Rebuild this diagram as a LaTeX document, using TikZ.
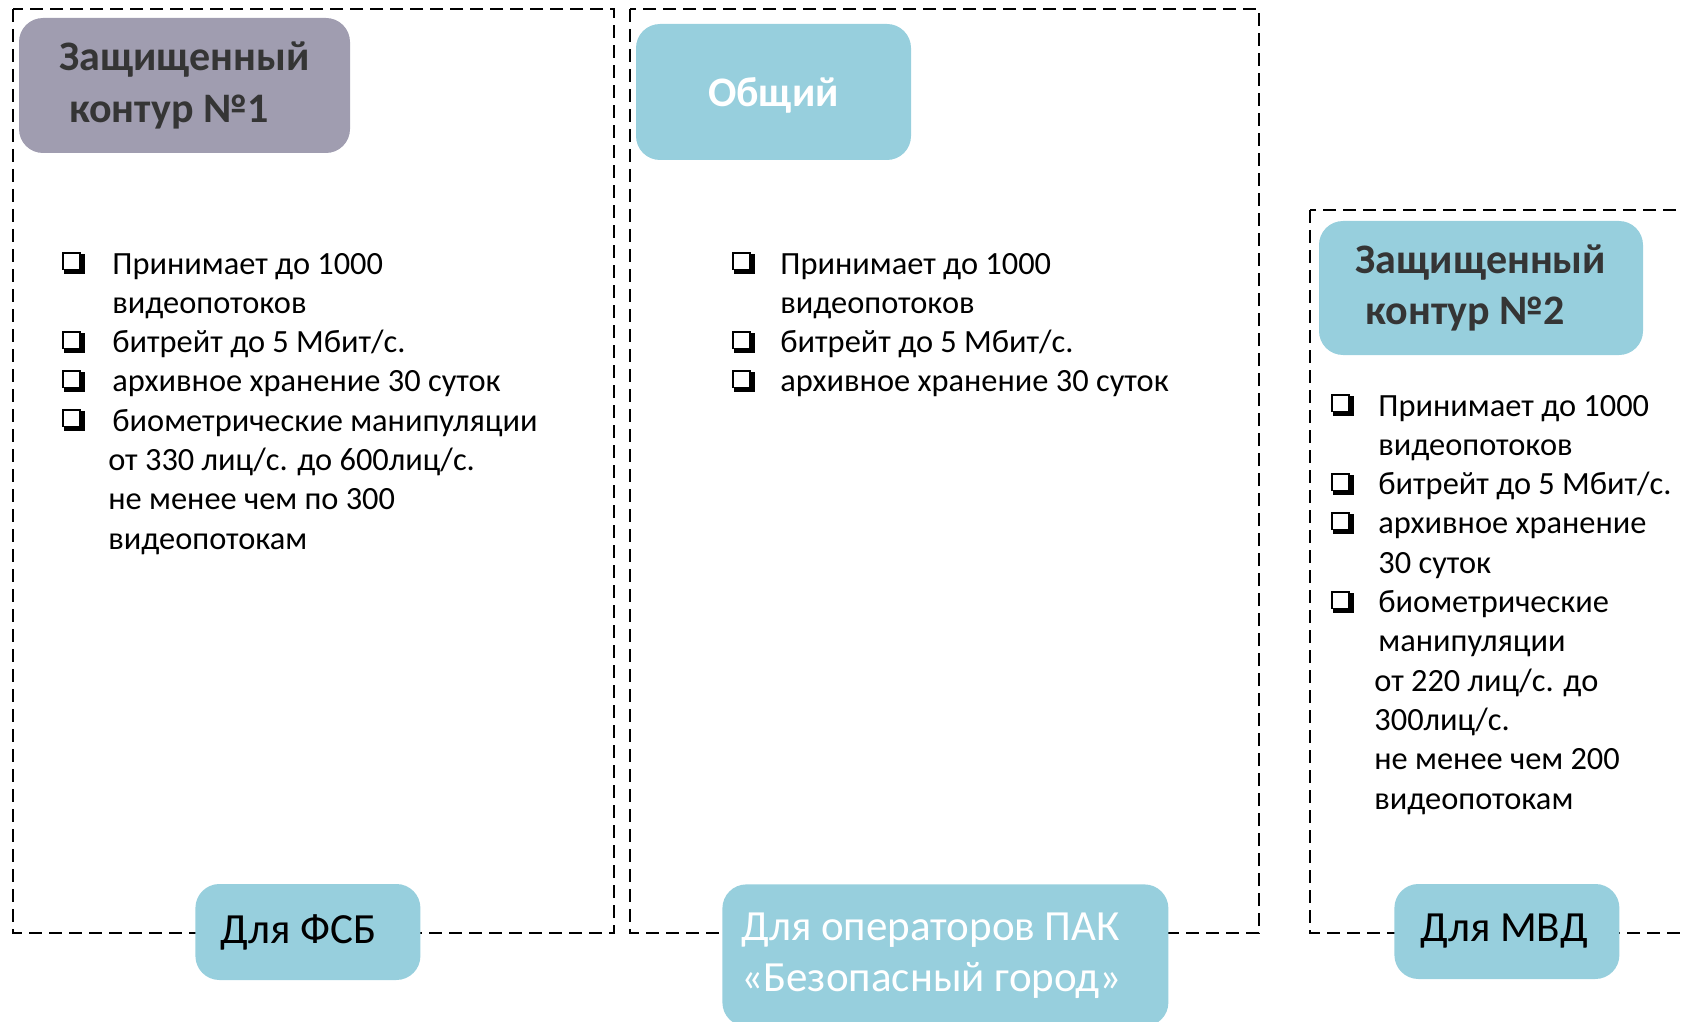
\documentclass[tikz,border=0pt]{standalone}
\usepackage{fontspec}
\setmainfont{Carlito}
\usetikzlibrary{positioning}
\definecolor{hdrgray}{HTML}{A09DB0}
\definecolor{hdrblue}{HTML}{97CFDD}
\definecolor{hdrtext}{HTML}{353535}
% box with shadow for the lists
\newcommand{\chk}{\begingroup\setlength{\unitlength}{1pt}\begin{picture}(11.5,11)
\put(0,10){\rule{9.5pt}{1pt}}
\put(0,2){\rule{1pt}{9pt}}
\put(8.5,2){\rule{1pt}{9pt}}
\put(1,0){\rule{10.5pt}{2.5pt}}
\put(8.5,0){\rule{3pt}{10pt}}
\end{picture}\endgroup}
\tikzset{
    %Define style for dashed frames
    kontur/.style={
           draw = black, line width = 1pt,
           dash pattern = on 6.5pt off 3.5pt},
    %Define style for header boxes
    zagol/.style={
           rounded corners = 12pt,
           text = hdrtext,
           align = left,
           inner sep = 0pt,
           font = \fontsize{21}{25.75}\selectfont\bfseries},
    %Define style for labels at the bottom
    podpis/.style={
           fill = hdrblue,
           rounded corners = 12pt,
           align = flush left,
           inner ysep = 0pt,
           font = \fontsize{21.5}{25.5}\selectfont},
    % Define style for lists
    spisok/.style={
           anchor = base west,
           inner sep = 0pt,
           font = \fontsize{16.2}{19.65}\selectfont}
}

\begin{document}
\begin{tikzpicture}[x=0.5pt, y=-0.5pt]
\useasboundingbox (0,0) rectangle (1683,1022);
 %frames
\draw[kontur] (13,9) rectangle (614,933);
\draw[kontur] (630,9) rectangle (1259,933);
\draw[kontur] (1310,210) rectangle (1700,933);
 %headers
\node[zagol, fill = hdrgray, minimum width = 165.5pt, minimum height = 67.5pt] (kont1) at (184.5,85.5)
	{Защищенный\\\hspace*{5pt}контур №1};
\node[zagol, fill = hdrblue, text = white, align = center, text depth = 0pt, minimum width = 137.5pt, minimum height = 68pt] (obsh) at (773.5,92)
	{Общий};
\node[zagol, fill = hdrblue, minimum width = 162pt, minimum height = 67pt] (kont2) at (1481,288)
	{Защищенный\\\hspace*{5pt}контур №2};
 %lists
\node[spisok] (spis1) at (62,274) {\begin{tabular}[t]{@{}p{25pt}@{}l@{}}
\chk & Принимает до 1000\\
     & видеопотоков\\
\chk & битрейт до 5 Мбит/с.\\
\chk & архивное хранение 30 суток\\
\chk & биометрические манипуляции\\
     & \hspace*{-2pt}от 330 лиц/с. до 600лиц/с.\\
     & \hspace*{-2pt}не менее чем по 300\\
     & \hspace*{-2pt}видеопотокам
\end{tabular}};
\node[spisok] (spis2) at (732,274) {\begin{tabular}[t]{@{}p{24pt}@{}l@{}}
\chk & Принимает до 1000\\
     & видеопотоков\\
\chk & битрейт до 5 Мбит/с.\\
\chk & архивное хранение 30 суток
\end{tabular}};
\node[spisok] (spis3) at (1331,416) {\begin{tabular}[t]{@{}p{23.5pt}@{}l@{}}
\chk & Принимает до 1000\\
     & видеопотоков\\
\chk & битрейт до 5 Мбит/с.\\
\chk & архивное хранение\\
     & 30 суток\\
\chk & биометрические\\
     & манипуляции\\
     & \hspace*{-2pt}от 220 лиц/с. до\\
     & \hspace*{-2pt}300лиц/с.\\
     & \hspace*{-2pt}не менее чем 200\\
     & \hspace*{-2pt}видеопотокам
\end{tabular}};
 %bottom labels
\node[podpis, anchor = west, inner xsep = 12.5pt, text width = 87.5pt,
	minimum width = 112.5pt, minimum height = 48pt] (fsb) at (195,932) {Для ФСБ};
\node[podpis, anchor = north west, text = white, inner xsep = 9.5pt, text width = 204pt,
	minimum width = 223pt, minimum height = 71pt] (oper) at (722,884)
	{Для операторов ПАК\\«Безопасный город»};
\node[podpis, anchor = west, inner xsep = 13pt, text width = 86.5pt,
	minimum width = 112.5pt, minimum height = 47.5pt] (mvd) at (1394,931.5) {Для МВД};
\end{tikzpicture}
\end{document}
